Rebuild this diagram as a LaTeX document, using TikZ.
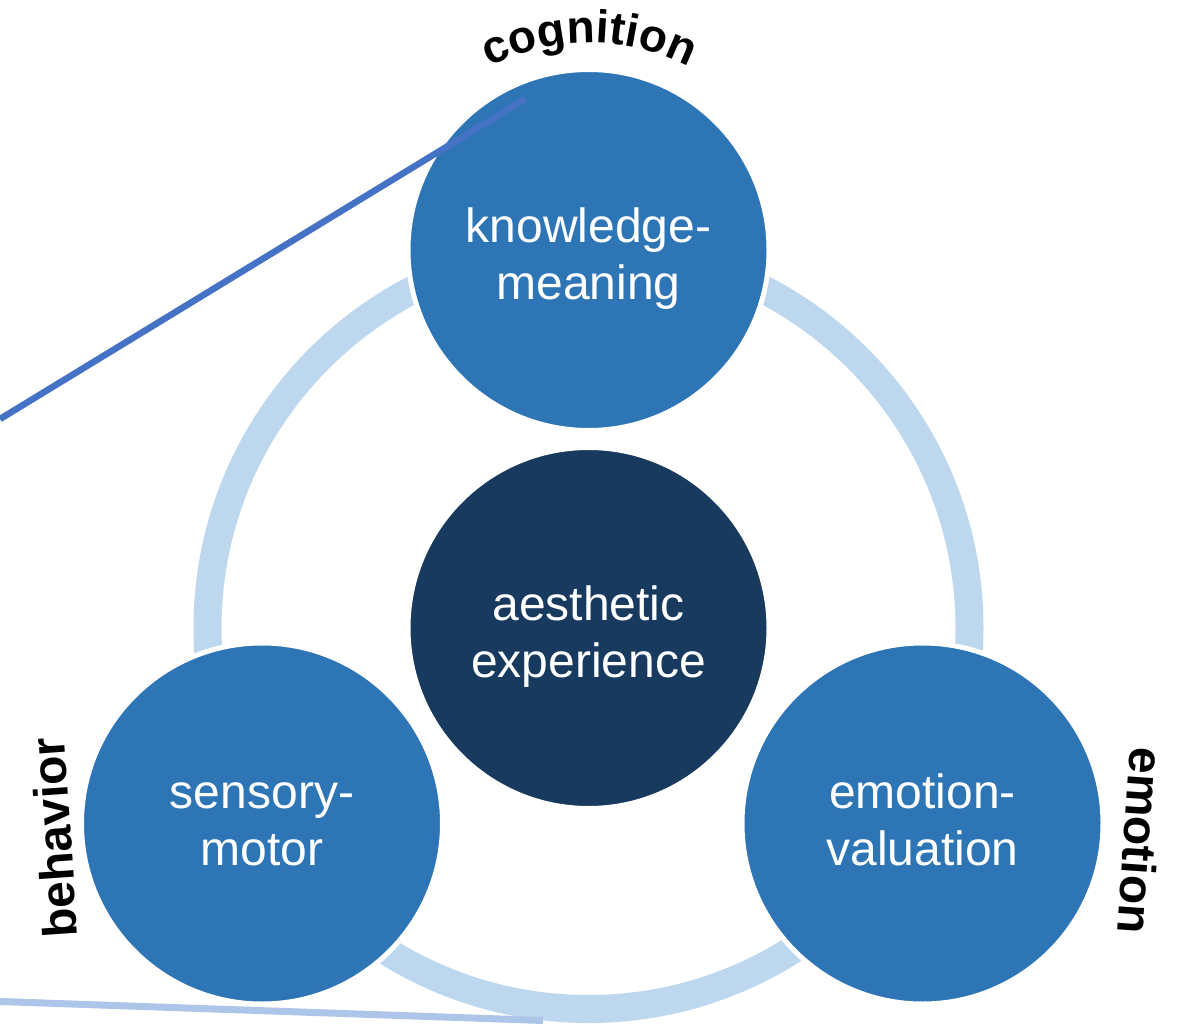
\documentclass[tikz,border=0pt]{standalone}
\usepackage{fontspec}
\setmainfont{Liberation Sans}
\usetikzlibrary{decorations.text,calc}
\definecolor{circblue}{HTML}{2E75B6}
\definecolor{navy}{HTML}{173A5E}
\definecolor{ringblue}{HTML}{BDD7EE}
\definecolor{lineblue}{HTML}{4472C4}
\definecolor{paleline}{HTML}{ADC5E8}
\newcommand\lblfont{\fontsize{46}{46}\selectfont\bfseries}
\newcommand\sidefont{\fontsize{48}{48}\selectfont\bfseries}
\begin{document}
\begin{tikzpicture}[x=1pt,y=1pt,
  bubble/.style={circle, minimum size=361pt, inner sep=0pt, draw=white, line width=5pt},
  txt/.style={text=white, font=\fontsize{48}{57}\selectfont, anchor=base, inner sep=0pt},
  side/.style={font=\sidefont, anchor=base, inner sep=0pt}]
\fill[white] (0,0) rectangle (1184,-1027);
\useasboundingbox (0,0) rectangle (1184,-1027);
\coordinate (hub) at (588.5,-628);
\draw[ringblue, line width=28pt] (hub) circle[radius=381pt];
\node[bubble, fill=navy] (ae) at (hub) {};
\node[bubble, fill=circblue] (km) at (588.5,-250) {};
\node[bubble, fill=circblue] (sm) at (262,-823.5) {};
\node[bubble, fill=circblue] (ev) at (922.5,-823.5) {};
\node[txt] (km1) at ($(km)+(0,7)$) {knowledge-};
\node[txt] (km2) at ($(km)+(0,-50)$) {meaning};
\node[txt] (ae1) at ($(ae)+(0,8)$) {aesthetic};
\node[txt] (ae2) at ($(ae)+(0,-49)$) {experience};
\node[txt] (sm1) at ($(sm)+(0,15.5)$) {sensory-};
\node[txt] (sm2) at ($(sm)+(0,-41.5)$) {motor};
\node[txt] (ev1) at ($(ev)+(0,15.5)$) {emotion-};
\node[txt] (ev2) at ($(ev)+(0,-41.5)$) {valuation};
\coordinate (cogStart) at (0,-419);
\coordinate (cogEnd) at (525,-99);
\draw[lineblue, line width=6.5pt] (cogStart) -- (cogEnd);
\coordinate (lowStart) at (0,-1001.5);
\coordinate (lowEnd) at (543,-1020.5);
\draw[paleline, line width=7pt] (lowStart) -- (lowEnd);
\path[decorate, decoration={text along path, text={|\lblfont|cognition}, text align=center}]
  (589,-262) ++(135:219pt) arc[start angle=135, end angle=45, radius=219pt];
\node[side, rotate=94] (beh) at (71,-836.5) {behavior};
\node[side, rotate=-94] (emo) at (1123.5,-839.5) {emotion};
\end{tikzpicture}
\end{document}
